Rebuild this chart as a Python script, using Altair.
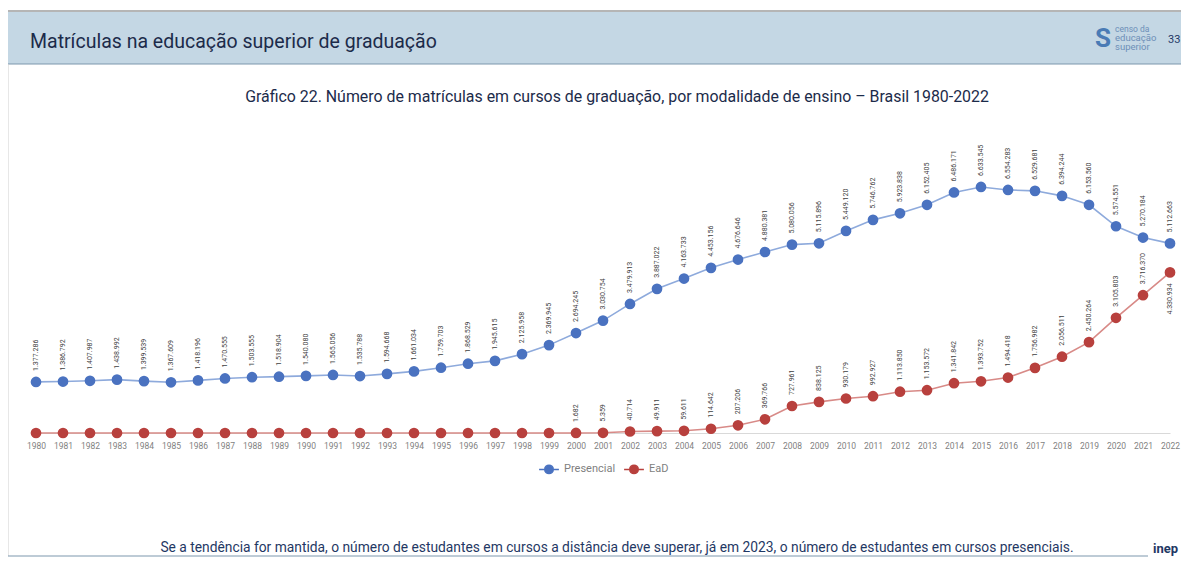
import altair as alt
import pandas as pd

years = list(range(1980, 2023))
presencial = [1377286, 1386792, 1407987, 1438992, 1399539, 1367609, 1418196, 1470555,
              1503555, 1518904, 1540080, 1565056, 1535788, 1594668, 1661034, 1759703,
              1868529, 1945615, 2125958, 2369945, 2694245, 3030754, 3479913, 3887022,
              4163733, 4453156, 4676646, 4880381, 5080056, 5115896, 5449120, 5746762,
              5923838, 6152405, 6486171, 6633545, 6554283, 6529681, 6394244, 6153560,
              5574551, 5270184, 5112663]
ead = [0] * 20 + [1682, 5359, 40714, 49911, 59611, 114642, 207206, 369766, 727961,
                  838125, 930179, 992927, 1113850, 1153572, 1341842, 1393752, 1494418,
                  1756982, 2056511, 2450264, 3105803, 3716370, 4330934]
series = ["Presencial", "EaD"]
point_colors = ["#4a72c0", "#b8403d"]
line_colors = ["#8eaadc", "#d88a87"]

header = "Matrículas na educação superior de graduação"
title = "Gráfico 22. Número de matrículas em cursos de graduação, por modalidade de ensino – Brasil 1980-2022"
footer = ("Se a tendência for mantida, o número de estudantes em cursos a distância deve superar, "
          "já em 2023, o número de estudantes em cursos presenciais.")

rows = []
for i, y in enumerate(years):
    rows.append({"ano": y, "serie": "Presencial", "valor": presencial[i]})
    rows.append({"ano": y, "serie": "EaD", "valor": ead[i]})
df = pd.DataFrame(rows)

W, H = 1161, 303

xs = alt.Scale(domain=[1980, 2022], range=[16, 1150])
ys = alt.Scale(domain=[0, 8170000], range=[H, 0], nice=False, zero=True)

base = alt.Chart(df).encode(
    x=alt.X("ano:Q", scale=xs,
            axis=alt.Axis(values=years, format="d", title=None, ticks=False,
                          grid=False, domainColor="#d9d9d9", domainWidth=1,
                          labelFont="Roboto", labelFontSize=8.5, labelColor="#7f7f7f",
                          labelPadding=8, labelOverlap=False, labelFlush=False)),
    y=alt.Y("valor:Q", scale=ys, axis=None),
)

lines = base.mark_line(strokeWidth=1.6).encode(
    color=alt.Color("serie:N", scale=alt.Scale(domain=series, range=line_colors), legend=None),
    detail="serie:N",
)

sym = "M-1.4,0L1.4,0M0.6,0A0.6,0.6,0,1,1,-0.6,0A0.6,0.6,0,1,1,0.6,0Z"
leg = alt.Legend(title=None, orient="none", direction="horizontal",
                 legendX=521, legendY=331, symbolType=sym,
                 symbolSize=200, labelFont="Roboto", labelFontSize=11,
                 labelColor="#7f7f7f", labelOffset=7, columnPadding=5,
                 symbolStrokeWidth=1.5)
pscale = alt.Scale(domain=series, range=point_colors)
points = base.mark_point(size=115, opacity=1, filled=True, strokeWidth=0.01).encode(
    fill=alt.Fill("serie:N", scale=pscale, legend=leg),
    stroke=alt.Stroke("serie:N", scale=pscale, legend=leg),
)

lab_up = base.transform_filter(
    "datum.valor > 0 && !(datum.serie == 'EaD' && datum.ano == 2022)"
).mark_text(angle=270, align="left", baseline="middle", dx=11, font="Roboto",
            fontSize=7, color="#404040").encode(text=alt.Text("valor:Q", format=",d"))

lab_down = base.transform_filter(
    "datum.serie == 'EaD' && datum.ano == 2022"
).mark_text(angle=270, align="right", baseline="middle", dx=-11, font="Roboto",
            fontSize=7, color="#404040").encode(text=alt.Text("valor:Q", format=",d"))

one = pd.DataFrame({"a": [0]})
band = alt.Chart(one).mark_rect(color="#c4d7e4").encode(
    x=alt.value(-12), x2=alt.value(W + 2), y=alt.value(-118), y2=alt.value(-66))
top_line = alt.Chart(one).mark_rule(color="#b5b5b5", strokeWidth=2).encode(
    x=alt.value(-12), x2=alt.value(W + 2), y=alt.value(-119))
band_line = alt.Chart(one).mark_rule(color="#7d97ad", strokeWidth=1).encode(
    x=alt.value(-12), x2=alt.value(W + 2), y=alt.value(-66))
left_line = alt.Chart(one).mark_rule(color="#cfcfcf", strokeWidth=1).encode(
    x=alt.value(-12), y=alt.value(-66), y2=alt.value(426))
bottom_line = alt.Chart(one).mark_rule(color="#7d97ad", strokeWidth=1).encode(
    x=alt.value(-12), x2=alt.value(1128), y=alt.value(426))

header_t = alt.Chart(one).mark_text(align="left", baseline="middle", font="Roboto",
                                    fontSize=19.5, color="#1c2b4a").encode(
    x=alt.value(10), y=alt.value(-88), text=alt.value(header))
title_t = alt.Chart(one).mark_text(align="center", baseline="middle", font="Roboto",
                                   fontSize=15.9, color="#1c2b4a").encode(
    x=alt.value(597), y=alt.value(-33), text=alt.value(title))
footer_t = alt.Chart(one).mark_text(align="center", baseline="middle", font="Roboto",
                                    fontSize=13.8, color="#1f3864").encode(
    x=alt.value(597), y=alt.value(418), text=alt.value(footer))
logo_s = alt.Chart(one).mark_text(align="center", baseline="middle", font="Roboto",
                                  fontSize=26, fontWeight="bold", color="#4a7bb5").encode(
    x=alt.value(1083), y=alt.value(-91), text=alt.value("S"))
logo_1 = alt.Chart(one).mark_text(align="left", baseline="middle", font="Roboto",
                                  fontSize=8.5, color="#6d8fb8").encode(
    x=alt.value(1095), y=alt.value(-101), text=alt.value("censo da"))
logo_2 = alt.Chart(one).mark_text(align="left", baseline="middle", font="Roboto",
                                  fontSize=9.5, color="#6d8fb8").encode(
    x=alt.value(1095), y=alt.value(-92), text=alt.value("educação"))
logo_3 = alt.Chart(one).mark_text(align="left", baseline="middle", font="Roboto",
                                  fontSize=9.5, color="#6d8fb8").encode(
    x=alt.value(1095), y=alt.value(-83), text=alt.value("superior"))
page_n = alt.Chart(one).mark_text(align="left", baseline="middle", font="Roboto",
                                  fontSize=11, color="#1f3864").encode(
    x=alt.value(1148), y=alt.value(-90), text=alt.value("33"))
inep = alt.Chart(one).mark_text(align="left", baseline="alphabetic", font="Roboto",
                                fontSize=13, fontWeight="bold", color="#1f3864").encode(
    x=alt.value(1133), y=alt.value(423), text=alt.value("inep"))

chart = alt.layer(
    band, top_line, band_line, left_line, bottom_line,
    header_t, title_t, footer_t, logo_s, logo_1, logo_2, logo_3, page_n, inep,
    lines, points, lab_up, lab_down,
).resolve_scale(color="independent").properties(
    width=W, height=H,
    autosize=alt.AutoSizeParams(type="none"),
    padding={"left": 12, "top": 122, "right": 0, "bottom": 124},
).configure(
    locale={"number": {"decimal": ",", "thousands": ".", "grouping": [3], "currency": ["R$", ""]}}
).configure_view(stroke=None)

chart.save("out.html", embed_options={"renderer": "svg", "actions": False})
